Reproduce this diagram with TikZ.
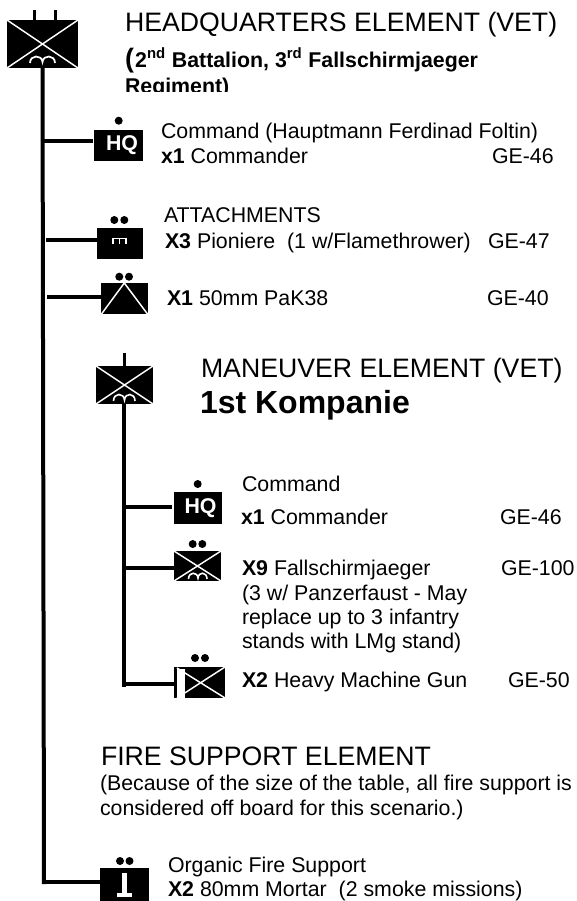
\documentclass[tikz,border=0pt]{standalone}
\usepackage{fontspec}
\setmainfont{Liberation Sans}
\tikzset{x=0.75pt,y=-0.75pt,
 txt/.style={anchor=base west,inner sep=0pt,outer sep=0pt,font=\fontsize{16pt}{18pt}\selectfont,text=black},
 big/.style={anchor=base west,inner sep=0pt,outer sep=0pt,font=\fontsize{20pt}{22pt}\selectfont},
 boldt/.style={anchor=base west,inner sep=0pt,outer sep=0pt,font=\bfseries\fontsize{16pt}{18pt}\selectfont},
 hqt/.style={anchor=base,inner sep=0pt,outer sep=0pt,text=white,font=\bfseries\fontsize{16pt}{18pt}\selectfont},
 conn/.style={line width=3pt,black},
 stem/.style={line width=2.5pt,black},
 blk/.style={fill=black,draw=none},
 wl/.style={white,line width=1.1pt},
 dotm/.style={circle,fill=black,inner sep=0pt,minimum size=6pt,draw=none}
}
\begin{document}
\begin{tikzpicture}
\useasboundingbox (0,0) rectangle (577,901);
% main lines
\coordinate (mtop) at (42.5,66);
\coordinate (mbot) at (44,884);
\draw[conn] (mtop) -- (mbot);
\coordinate (stop) at (124,403);
\coordinate (sbot) at (124,687);
\draw[conn] (stop) -- (sbot);
% top symbol
\fill[blk] (7,20) rectangle (78,68);
\draw[stem] (34.7,10) -- (34.7,20) (55.3,10) -- (55.3,20);
\draw[wl] (7,20) -- (78,68) (7,68) -- (78,20);
\draw[white,line width=1.3pt] (30,63) .. controls (30,54.5) and (42,54.5) .. (42.5,62) .. controls (43,54.5) and (55,54.5) .. (55,63);
% HQ1
\coordinate (a1) at (44,141);
\coordinate (a1e) at (93,141);
\draw[conn] (a1) -- (a1e);
\fill[blk] (94,130) rectangle (143,161);
\node[hqt] at (122,150) {HQ};
\node[dotm] at (118.7,120.7) {};
% Pioniere
\coordinate (a2) at (46,240);
\coordinate (a2e) at (97,240);
\draw[conn] (a2) -- (a2e);
\fill[blk] (97,228) rectangle (143,259);
\node[dotm] at (114.3,220) {};
\node[dotm] at (124.3,220) {};
\draw[white,line width=1pt] (113,244) -- (113,238.5) -- (126,238.5) -- (126,244) (119.5,238.5) -- (119.5,244);
% PaK
\coordinate (a3) at (47,296.7);
\coordinate (a3e) at (101,296.7);
\draw[conn] (a3) -- (a3e);
\fill[blk] (101,283) rectangle (148,314);
\node[dotm] at (119.3,276.7) {};
\node[dotm] at (129,276.7) {};
\draw[wl] (101.5,314) -- (124.3,283) -- (147.5,314);
% 1st Kompanie symbol
\fill[blk] (96,366) rectangle (153,404);
\draw[stem] (124.5,353) -- (124.5,366);
\draw[wl] (96,366) -- (153,404) (96,404) -- (153,366);
\draw[white,line width=1.2pt] (113.5,401) .. controls (113.5,392.5) and (124,392.5) .. (124.5,400) .. controls (125,392.5) and (135,392.5) .. (135,401);
% HQ2
\coordinate (b1) at (124,507);
\coordinate (b1e) at (172,507);
\draw[conn] (b1) -- (b1e);
\fill[blk] (174,492) rectangle (222,524);
\node[hqt] at (200.5,513) {HQ};
\node[dotm] at (197.7,484) {};
% Fallschirmjaeger
\coordinate (b2) at (124,567.7);
\coordinate (b2e) at (175,567.7);
\draw[conn] (b2) -- (b2e);
\fill[blk] (174,551) rectangle (221,581);
\node[dotm] at (192.7,544) {};
\node[dotm] at (202.3,544) {};
\draw[wl] (174,551) -- (221,581) (174,581) -- (221,551);
\draw[white,line width=1.2pt] (188.5,579) .. controls (188.5,571.5) and (197.5,571.5) .. (198,578) .. controls (198.5,571.5) and (207,571.5) .. (207,579);
% HMG
\coordinate (b3) at (124,684);
\coordinate (b3e) at (175,684);
\draw[conn] (b3) -- (b3e);
\fill[blk] (174,667) rectangle (225,698);
\node[dotm] at (195,658) {};
\node[dotm] at (205,658) {};
\draw[wl] (177,668) -- (225,698) (177,698) -- (225,667);
\fill[white] (177,669) rectangle (185,698);
% Mortar
\coordinate (c1e) at (100,882);
\draw[conn] (mbot |- c1e) -- (c1e);
\fill[blk] (100,868) rectangle (149.3,901);
\node[dotm] at (120,861) {};
\node[dotm] at (129.5,861) {};
\fill[white] (122,873) rectangle (127,893);
\fill[white] (117,893) rectangle (132,897);
% text
\node[big] at (125,31) {HEADQUARTERS ELEMENT (VET)};
\node[boldt] at (125,67) {{\fontsize{20pt}{20pt}\selectfont(}\kern1pt 2\textsuperscript{nd} Battalion, 3\textsuperscript{rd} Fallschirmjaeger};
\begin{scope}
\clip (100,70) rectangle (400,91);
\node[boldt] at (125,93) {Regiment)};
\end{scope}
\node[txt] at (161,138) {Command (Hauptmann Ferdinad Foltin)};
\node[txt] at (161,163) {\textbf{x1} Commander};
\node[txt] at (492,163) {GE-46};
\node[txt] at (164,222) {ATTACHMENTS};
\node[txt] at (165,248) {\textbf{X3} Pioniere\ \ (1 w/Flamethrower)};
\node[txt] at (488,248) {GE-47};
\node[txt] at (167,305) {\textbf{X1} 50mm PaK38};
\node[txt] at (487,305) {GE-40};
\node[big] at (201,377) {MANEUVER ELEMENT (VET)};
\node[big,font=\bfseries\fontsize{24pt}{26pt}\selectfont] at (200,413) {1st Kompanie};
\node[txt] at (242,491) {Command};
\node[txt] at (241,524) {\textbf{x1} Commander};
\node[txt] at (500,524) {GE-46};
\node[txt] at (242,575) {\textbf{X9} Fallschirmjaeger};
\node[txt] at (501,575) {GE-100};
\node[txt] at (242,600) {(3 w/ Panzerfaust - May};
\node[txt] at (242,624) {replace up to 3 infantry};
\node[txt] at (242,648) {stands with LMg stand)};
\node[txt] at (242,687) {\textbf{X2} Heavy Machine Gun};
\node[txt] at (508,687) {GE-50};
\node[big] at (101,765) {FIRE SUPPORT ELEMENT};
\node[txt] at (100,790) {(Because of the size of the table, all fire support is};
\node[txt] at (100,815) {considered off board for this scenario.)};
\node[txt] at (168,872) {Organic Fire Support};
\node[txt] at (168,896) {\textbf{X2} 80mm Mortar\ \ (2 smoke missions)};
\end{tikzpicture}
\end{document}
